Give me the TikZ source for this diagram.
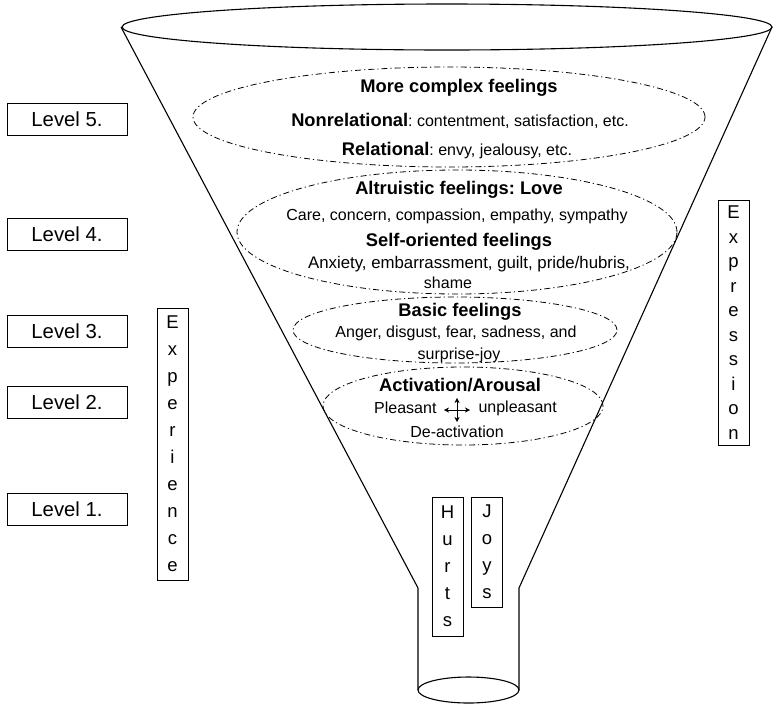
\documentclass[tikz,border=0pt]{standalone}
\usepackage{fontspec}
\setmainfont{Liberation Sans}
\usetikzlibrary{arrows.meta}
\frenchspacing

\newcommand{\hdtext}[1]{{\fontsize{18.3}{22}\selectfont\bfseries #1}}

\begin{document}
\begin{tikzpicture}[x=1pt, y=-1pt,
    levelbox/.style={draw, line width=0.9pt, minimum width=120pt, minimum height=32pt,
      inner sep=0pt, font=\fontsize{20.3}{24}\selectfont},
    letterbox/.style={draw, line width=0.9pt, minimum width=31pt, inner sep=0pt,
      align=center, font=\fontsize{18.5}{27}\selectfont},
    feelring/.style={line width=0.8pt, dash pattern=on 6pt off 3pt on 1.2pt off 3pt},
    funnel/.style={line width=1.1pt},
    head/.style={font=\fontsize{18.3}{22}\selectfont\bfseries},
    body/.style={font=\fontsize{16}{19}\selectfont}]

  \useasboundingbox (0,0) rectangle (773,705);

  % ---- funnel: rim, sides, neck and bottom ----
  \draw[funnel] (447,27) ellipse [x radius=325pt, y radius=23pt];
  \draw[funnel] (121,27) -- (418,588) -- (418,690);
  \draw[funnel] (772,27) -- (519,588) -- (519,690);
  \draw[funnel] (468.5,690) ellipse [x radius=50.5pt, y radius=13pt];

  % ---- the four dash-dot rings ----
  \draw[feelring] (449,117) ellipse [x radius=256pt, y radius=50pt];
  \draw[feelring] (457,232) ellipse [x radius=220pt, y radius=62pt];
  \draw[feelring] (455,330) ellipse [x radius=162pt, y radius=33pt];
  \draw[feelring] (463,406) ellipse [x radius=140pt, y radius=39pt];

  % ---- ring 5: more complex feelings ----
  \node[head] (complex) at (459,88) {More complex feelings};
  \node[body] (nonrel) at (460,121) {\hdtext{Nonrelational}: contentment, satisfaction, etc.};
  \node[body] (rel) at (457,151) {\hdtext{Relational}: envy, jealousy, etc.};

  % ---- ring 4: love and self-oriented feelings ----
  \node[head] (love) at (459,190) {Altruistic feelings: Love};
  \node[body] (care) at (457,216) {Care, concern, compassion, empathy, sympathy};
  \node[head] (self) at (459,242) {Self-oriented feelings};
  \node[body, font=\fontsize{16.8}{19}\selectfont] (anxiety) at (469,264)
    {Anxiety, embarrassment, guilt, pride/hubris,};
  \node[body] (shame) at (448,283) {shame};

  % ---- ring 3: basic feelings ----
  \node[head] (basic) at (460,312) {Basic feelings};
  \node[body] (anger) at (456,333) {Anger, disgust, fear, sadness, and};
  \node[body] (surprise) at (459,355) {surprise-joy};

  % ---- ring 2: activation ----
  \node[head] (arousal) at (460,385) {Activation/Arousal};
  \coordinate (cross) at (457,410);
  \node[body, anchor=east] (pleasant) at (440,408) {Pleasant};
  \node[body, anchor=west] (unpleasant) at (475,408) {unpleasant};
  \node[body] (deact) at (457,432) {De-activation};
  \draw[<->, >={Stealth[length=5pt, width=5pt]}] ([xshift=-13pt]cross) -- ([xshift=13pt]cross);
  \draw[<->, >={Stealth[length=5pt, width=5pt]}] ([yshift=12pt]cross) -- ([yshift=-12pt]cross);

  % ---- level labels on the left ----
  \node[levelbox] (lev5) at (67,119.5) {Level 5.};
  \node[levelbox] (lev4) at (67,234) {Level 4.};
  \node[levelbox] (lev3) at (67,331.5) {Level 3.};
  \node[levelbox] (lev2) at (67,402.5) {Level 2.};
  \node[levelbox] (lev1) at (67,509.5) {Level 1.};

  % ---- upright words ----
  \node[letterbox, minimum height=272pt] (experience) at (172.5,444)
    {E\\x\\p\\e\\r\\i\\e\\n\\c\\e};
  \node[letterbox, minimum height=245pt, font=\fontsize{18.5}{24.5}\selectfont] (expression) at (733.5,322.5)
    {E\\x\\p\\r\\e\\s\\s\\i\\o\\n};
  \node[letterbox, minimum height=139pt] (hurts) at (447.5,566.5) {H\\u\\r\\t\\s};
  \node[letterbox, minimum height=110pt] (joys) at (487,552) {J\\o\\y\\s};

\end{tikzpicture}
\end{document}
